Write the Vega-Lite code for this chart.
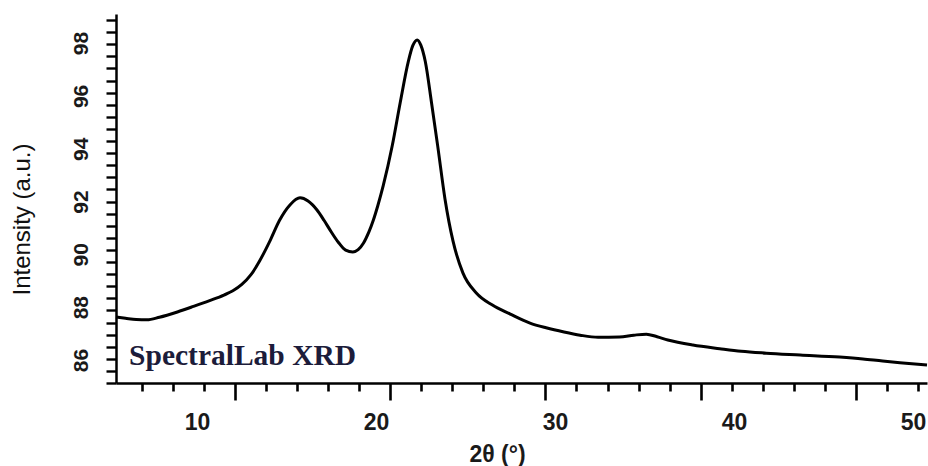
{
  "$schema": "https://vega.github.io/schema/vega-lite/v6.json",
  "width": 811,
  "height": 369,
  "autosize": {"type": "none"},
  "padding": {"left": 116, "top": 14, "right": 1, "bottom": 83},
  "background": "white",
  "config": {"view": {"stroke": null}, "axis": {"grid": false, "labelFont": "Liberation Sans", "titleFont": "Liberation Sans"}},
  "data": {"values": [
    {"t": 5.47, "i": 87.63}, {"t": 6.0, "i": 87.58}, {"t": 6.6, "i": 87.53}, {"t": 7.2, "i": 87.52},
    {"t": 7.9, "i": 87.62}, {"t": 8.9, "i": 87.82}, {"t": 9.8, "i": 88.03}, {"t": 10.7, "i": 88.25},
    {"t": 11.5, "i": 88.46}, {"t": 12.0, "i": 88.62}, {"t": 12.5, "i": 88.86}, {"t": 13.0, "i": 89.22},
    {"t": 13.5, "i": 89.76}, {"t": 14.1, "i": 90.55}, {"t": 14.6, "i": 91.28}, {"t": 15.2, "i": 91.88},
    {"t": 15.75, "i": 92.14}, {"t": 16.2, "i": 92.02}, {"t": 16.7, "i": 91.68}, {"t": 17.1, "i": 91.28},
    {"t": 17.45, "i": 90.9}, {"t": 17.9, "i": 90.45}, {"t": 18.3, "i": 90.16}, {"t": 18.7, "i": 90.09},
    {"t": 19.0, "i": 90.18}, {"t": 19.3, "i": 90.43}, {"t": 19.6, "i": 90.85}, {"t": 19.85, "i": 91.3},
    {"t": 20.1, "i": 91.85}, {"t": 20.4, "i": 92.6}, {"t": 20.9, "i": 94.1}, {"t": 21.35, "i": 95.75},
    {"t": 21.8, "i": 97.3}, {"t": 22.05, "i": 97.9}, {"t": 22.3, "i": 98.12}, {"t": 22.5, "i": 97.92},
    {"t": 22.75, "i": 97.3}, {"t": 23.1, "i": 95.73}, {"t": 23.45, "i": 94.07}, {"t": 23.85, "i": 92.1},
    {"t": 24.3, "i": 90.5}, {"t": 24.85, "i": 89.3}, {"t": 25.6, "i": 88.54}, {"t": 26.5, "i": 88.08},
    {"t": 27.5, "i": 87.74}, {"t": 28.6, "i": 87.4}, {"t": 29.5, "i": 87.22}, {"t": 30.5, "i": 87.06},
    {"t": 31.4, "i": 86.94}, {"t": 32.4, "i": 86.86}, {"t": 33.6, "i": 86.87}, {"t": 34.4, "i": 86.94},
    {"t": 35.1, "i": 86.98}, {"t": 35.7, "i": 86.88}, {"t": 36.3, "i": 86.76}, {"t": 37.7, "i": 86.57},
    {"t": 39.2, "i": 86.43}, {"t": 40.4, "i": 86.33}, {"t": 41.8, "i": 86.26}, {"t": 43.7, "i": 86.19},
    {"t": 45.9, "i": 86.11}, {"t": 47.2, "i": 86.04}, {"t": 48.3, "i": 85.96}, {"t": 49.6, "i": 85.88},
    {"t": 50.78, "i": 85.81}
  ]},
  "resolve": {"axis": {"x": "independent", "y": "independent"}},
  "layer": [
    {
      "mark": {"type": "line", "color": "black", "strokeWidth": 3, "interpolate": "monotone"},
      "encoding": {
        "x": {"field": "t", "type": "quantitative",
          "scale": {"domain": [5.47, 50.78], "nice": false, "zero": false},
          "axis": {"orient": "bottom", "title": null, "labels": false,
            "values": [6.92, 8.654, 10.388, 12.122, 13.856, 15.59, 17.324, 19.058, 20.792, 22.526, 24.26, 25.994, 27.728, 29.462, 31.196, 32.93, 34.664, 36.398, 38.132, 39.866, 41.6, 43.334, 45.068, 46.802, 48.536, 50.27],
            "domainColor": "black", "domainWidth": 2.5, "tickColor": "black", "tickWidth": 2.6,
            "tickSize": {"condition": {"test": "abs(datum.value-12.122)<0.01 || abs(datum.value-20.792)<0.01 || abs(datum.value-29.462)<0.01 || abs(datum.value-38.132)<0.01 || abs(datum.value-46.802)<0.01", "value": 17}, "value": 8}}},
        "y": {"field": "i", "type": "quantitative",
          "scale": {"domain": [85.13, 99.1], "nice": false, "zero": false},
          "axis": {"orient": "left", "title": null, "labels": false,
            "values": [85.13, 85.588, 86.046, 86.504, 86.962, 87.42, 87.878, 88.336, 88.794, 89.252, 89.71, 90.168, 90.626, 91.084, 91.542, 92.0, 92.458, 92.916, 93.374, 93.832, 94.29, 94.748, 95.206, 95.664, 96.122, 96.58, 97.038, 97.496, 97.954, 98.412, 98.87],
            "domainColor": "black", "domainWidth": 2.5, "tickColor": "black", "tickWidth": 2.4, "tickSize": 10}}
      }
    },
    {
      "mark": {"type": "point", "opacity": 0, "size": 1},
      "encoding": {
        "x": {"field": "t", "type": "quantitative",
          "axis": {"orient": "bottom", "domain": false, "ticks": false, "tickSize": 0,
            "values": [10, 20, 30, 40, 50], "labelFontSize": 23, "labelFontWeight": "bold", "labelColor": "#1a1a1a",
            "labelBaseline": "alphabetic", "labelPadding": 46, "labelFlush": false,
            "title": "2θ (°)", "titleFontSize": 23, "titleFontWeight": "bold", "titleColor": "#1a1a1a",
            "titleX": 381, "titleY": 71, "titleBaseline": "middle", "titleAlign": "center", "titleAnchor": null}},
        "y": {"field": "i", "type": "quantitative",
          "axis": {"orient": "left", "domain": false, "ticks": false, "tickSize": 0,
            "values": [86, 88, 90, 92, 94, 96, 98], "labelFontSize": 21, "labelFontWeight": "bold", "labelColor": "#1a1a1a",
            "labelAngle": -90, "labelAlign": "center", "labelBaseline": "alphabetic", "labelPadding": 29, "labelFlush": false,
            "title": "Intensity (a.u.)", "titleFontSize": 24, "titleFontWeight": "normal", "titleColor": "#111111",
            "titleX": -94, "titleY": 205, "titleAngle": -90, "titleBaseline": "middle", "titleAlign": "center", "titleAnchor": null}}
      }
    },
    {
      "data": {"values": [{"label": "SpectralLab XRD"}]},
      "mark": {"type": "text", "align": "left", "baseline": "alphabetic", "font": "Liberation Serif", "fontWeight": "bold", "fontSize": 29.5, "color": "#1c1c3a"},
      "encoding": {
        "x": {"datum": 6.2, "type": "quantitative", "axis": null},
        "y": {"datum": 85.81, "type": "quantitative", "axis": null},
        "text": {"field": "label", "type": "nominal"}
      }
    }
  ]
}
